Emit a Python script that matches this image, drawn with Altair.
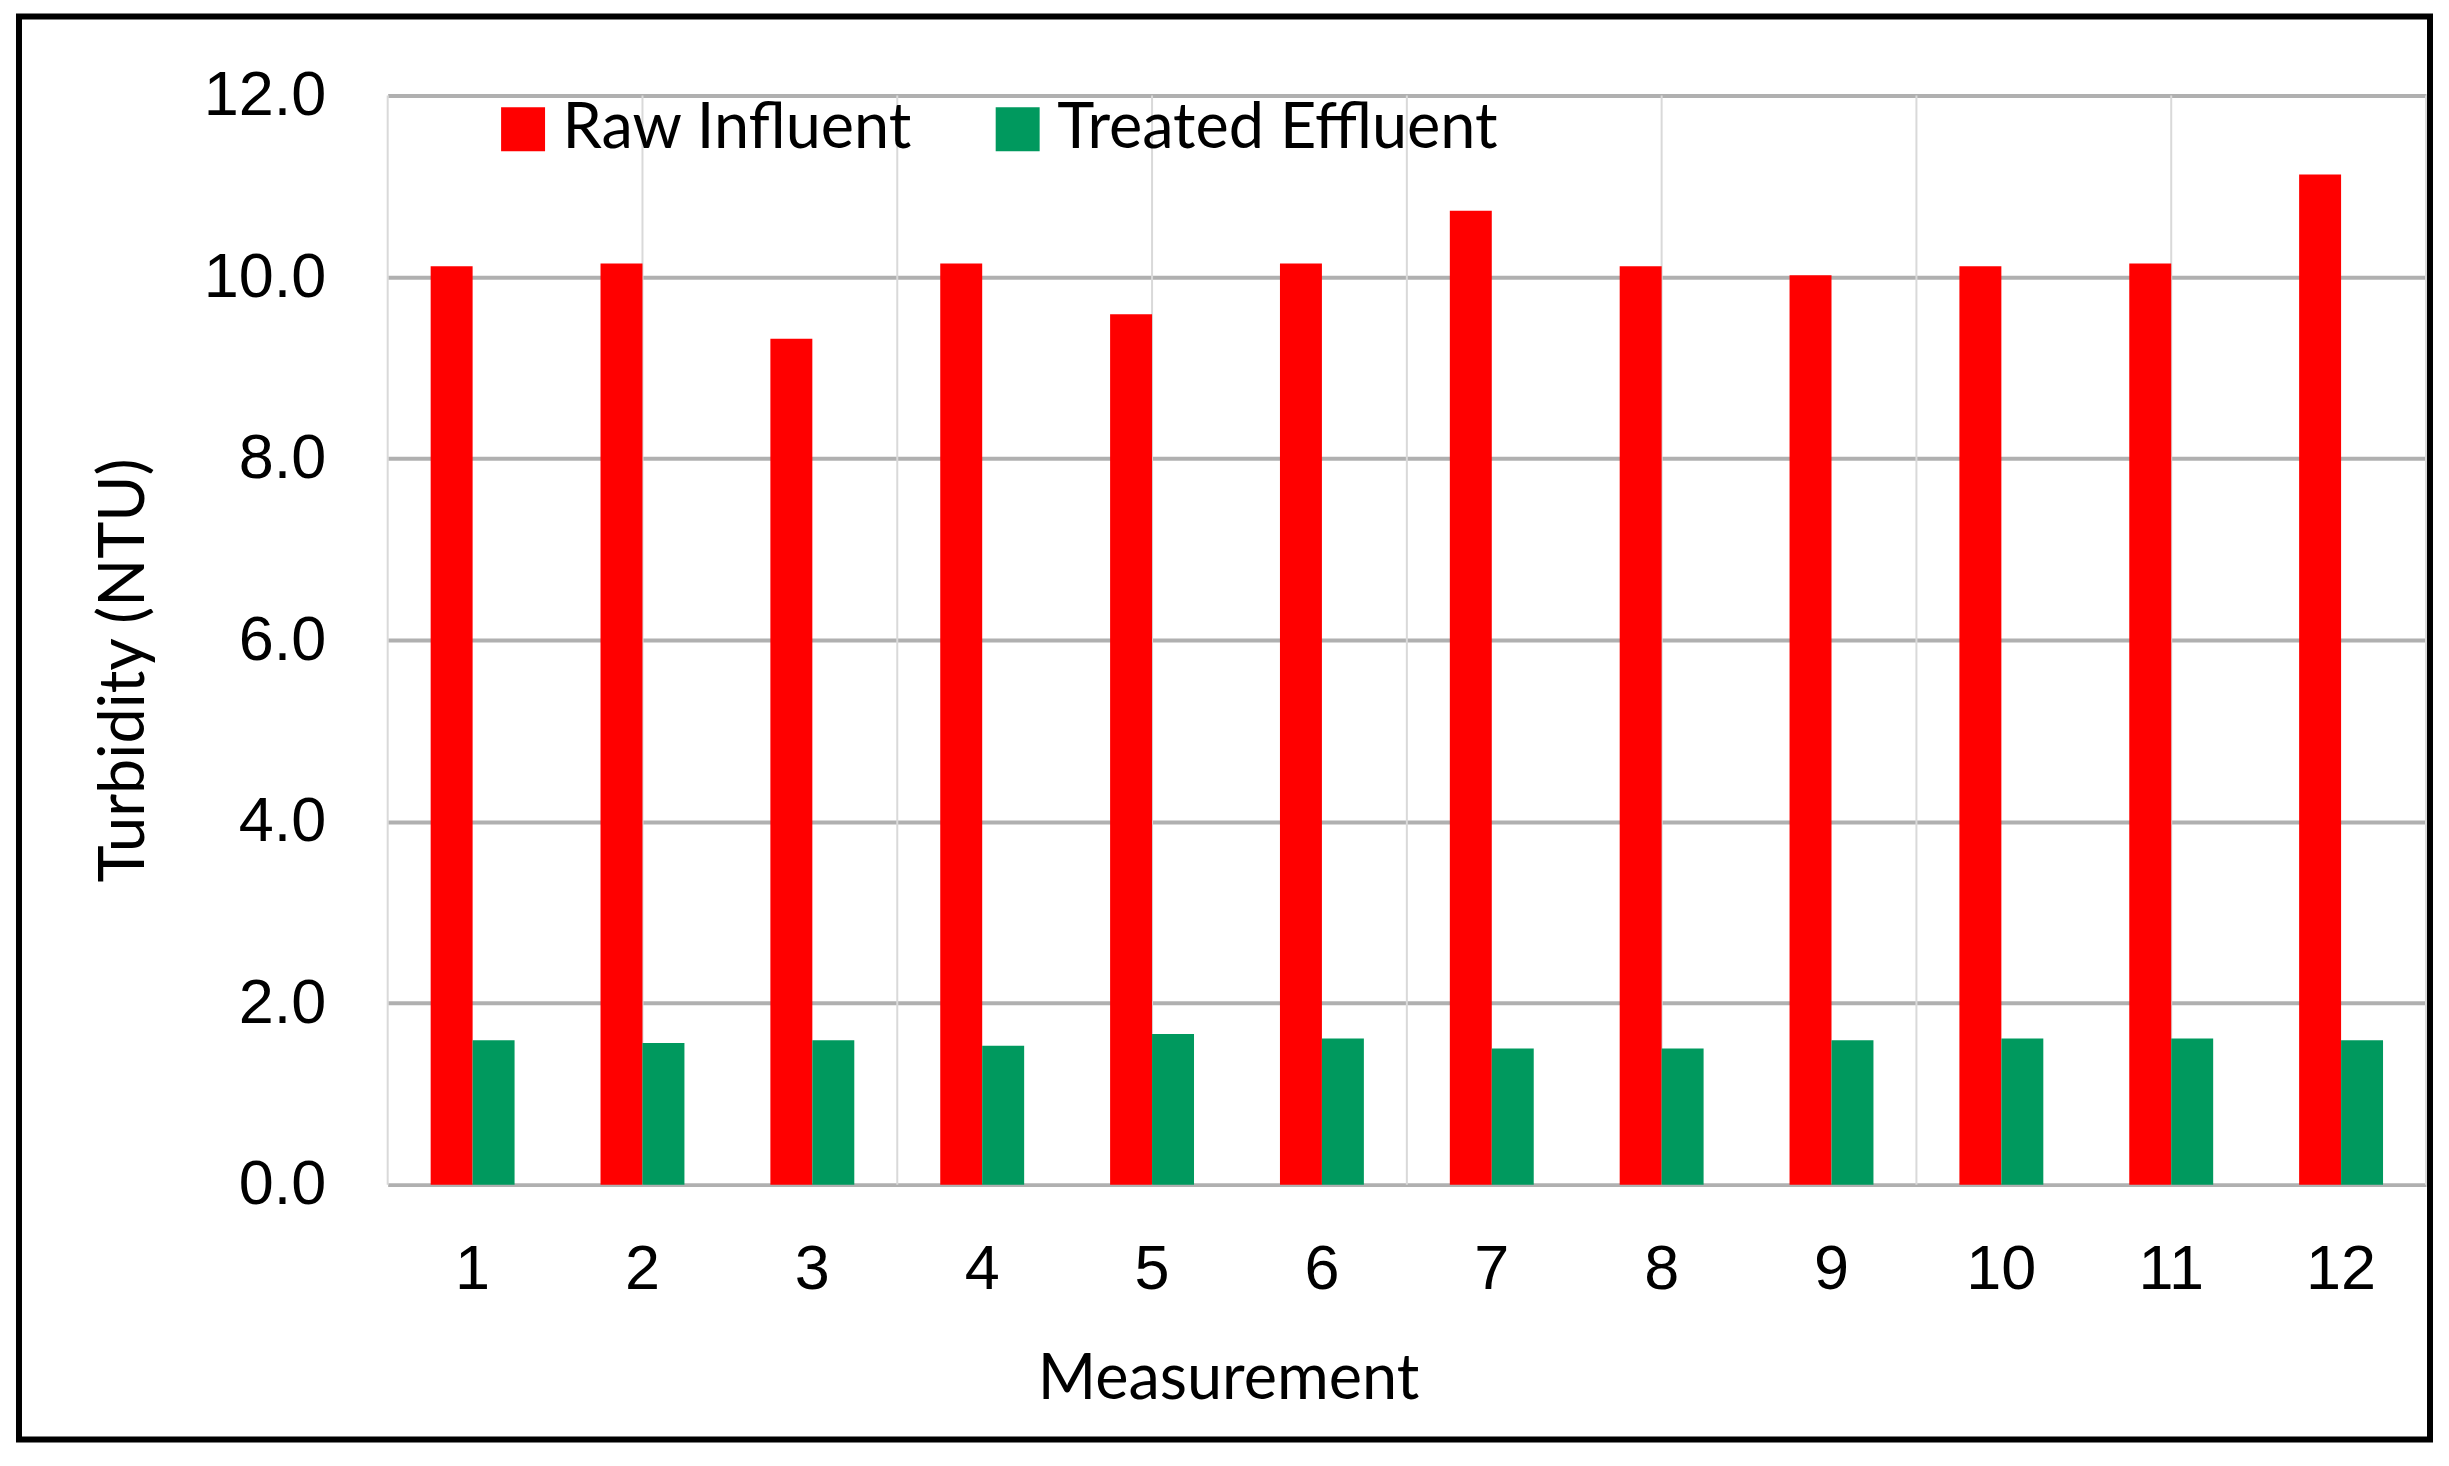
import altair as alt
import pandas as pd

measurements = [1, 2, 3, 4, 5, 6, 7, 8, 9, 10, 11, 12]
raw_influent = [10.12, 10.15, 9.32, 10.15, 9.59, 10.15, 10.73, 10.12, 10.02, 10.12, 10.15, 11.13]
treated_effluent = [1.59, 1.56, 1.59, 1.53, 1.66, 1.61, 1.50, 1.50, 1.59, 1.61, 1.61, 1.59]
series_names = ["Raw Influent", "Treated Effluent"]
series_colors = ["#FF0000", "#00995E"]
y_ticks = [0, 2, 4, 6, 8, 10, 12]
vertical_grid = [0, 1, 2, 3, 4, 5, 6, 7, 8]

rows = []
for m, r, t in zip(measurements, raw_influent, treated_effluent):
    rows.append({"Measurement": m, "Series": series_names[0], "Value": r})
    rows.append({"Measurement": m, "Series": series_names[1], "Value": t})
df = pd.DataFrame(rows)
vdf = pd.DataFrame({"pos": vertical_grid})

W, H = 2040, 1090

vrules = alt.Chart(vdf).mark_rule(color="#d9d9d9", strokeWidth=2).encode(
    x=alt.X("pos:Q", scale=alt.Scale(domain=[0, 8], nice=False), axis=None)
)

bars = alt.Chart(df).mark_bar().encode(
    x=alt.X(
        "Measurement:O",
        sort=measurements,
        scale=alt.Scale(paddingInner=0.506, paddingOuter=0.253),
        axis=alt.Axis(
            title="Measurement",
            labelAngle=0,
            labelFont="Liberation Sans",
            labelFontSize=63,
            labelColor="black",
            labelPadding=54,
            ticks=False,
            domain=False,
            grid=False,
            titleFont="Lato",
            titleFontSize=63,
            titleFontWeight="normal",
            titleColor="black",
            titleX=841,
            titleY=214,
            titleAlign="center",
            titleBaseline="alphabetic",
        ),
    ),
    xOffset=alt.XOffset("Series:N", sort=series_names, scale=alt.Scale(paddingInner=0, paddingOuter=0)),
    y=alt.Y(
        "Value:Q",
        scale=alt.Scale(domain=[0, 12], nice=False),
        axis=alt.Axis(
            title="Turbidity (NTU)",
            values=y_ticks,
            format=".1f",
            labelFont="Liberation Sans",
            labelFontSize=63,
            labelColor="black",
            labelPadding=62,
            ticks=False,
            domain=False,
            grid=True,
            gridColor="#b0b0b0",
            gridWidth=4,
            titleFont="Lato",
            titleFontSize=63,
            titleFontWeight="normal",
            titleColor="black",
            titleAngle=270,
            titleX=-244,
            titleY=575,
            titleAlign="center",
            titleBaseline="alphabetic",
        ),
    ),
    color=alt.Color(
        "Series:N",
        sort=series_names,
        scale=alt.Scale(domain=series_names, range=series_colors),
        legend=alt.Legend(
            title=None,
            orient="none",
            legendX=104,
            legendY=2,
            direction="horizontal",
            symbolType="square",
            symbolSize=1936,
            symbolStrokeWidth=0,
            symbolOpacity=1,
            labelFont="Lato",
            labelFontSize=63,
            labelColor="black",
            labelLimit=2000,
            labelOffset=8,
            columnPadding=73,
            padding=0,
        ),
    ),
)

border = alt.Chart(pd.DataFrame({"a": [0]})).mark_rect(
    fill="transparent", stroke="black", strokeWidth=6
).encode(
    x=alt.value(-369), x2=alt.value(2044), y=alt.value(-79), y2=alt.value(1345)
)

chart = alt.layer(vrules, bars, border).resolve_scale(x="independent").properties(
    width=W,
    height=H,
    autosize=alt.AutoSizeParams(type="none"),
    padding={"left": 380, "top": 87, "right": 15, "bottom": 265},
    background="white",
).configure_view(stroke=None)

chart.save("out.html", embed_options={"renderer": "svg", "actions": False})
